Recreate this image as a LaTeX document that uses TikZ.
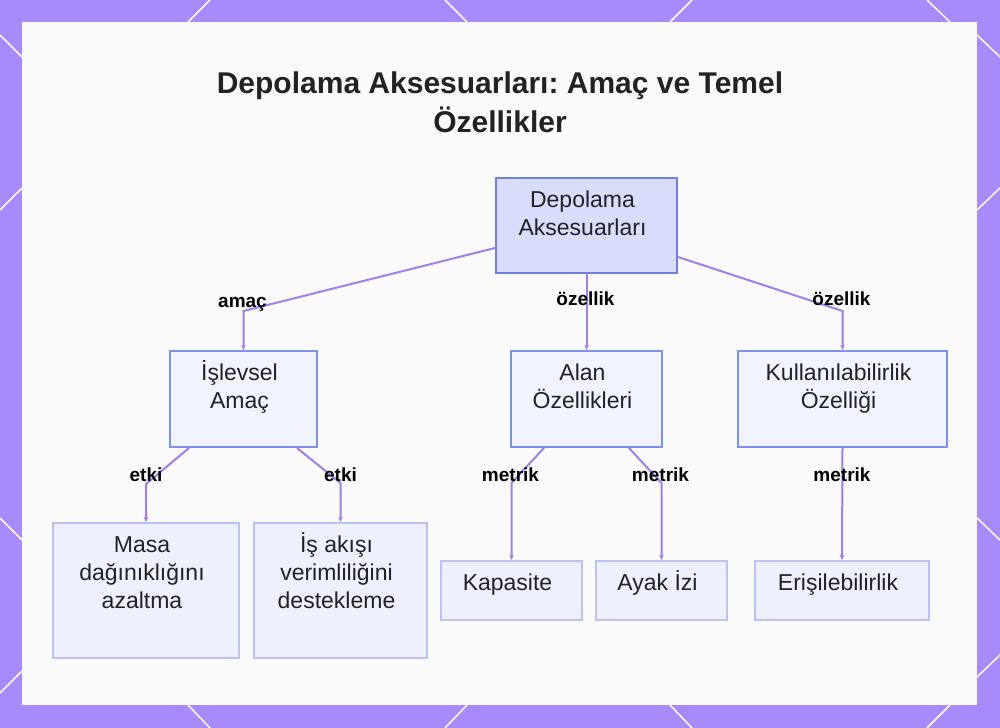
\documentclass[tikz,border=0pt]{standalone}
\usepackage{fontspec}
\setmainfont{Liberation Sans}
\usetikzlibrary{calc,arrows.meta}
\frenchspacing
\definecolor{bgpurple}{HTML}{A78BFA}
\definecolor{panelbg}{HTML}{FAFAFA}
\definecolor{rootfill}{HTML}{D9DCFB}
\definecolor{rootdraw}{HTML}{6F80D8}
\definecolor{midfill}{HTML}{F1F3FE}
\definecolor{middraw}{HTML}{8090E6}
\definecolor{leaffill}{HTML}{EEF0FE}
\definecolor{leafdraw}{HTML}{BAC3F3}
\definecolor{edgecol}{HTML}{A07FE8}
\definecolor{txt}{HTML}{222222}
\tikzset{
  boxbase/.style={rectangle, inner sep=0pt, line width=1.5pt},
  rootbox/.style={boxbase, fill=rootfill, draw=rootdraw},
  midbox/.style={boxbase, fill=midfill, draw=middraw},
  leafbox/.style={boxbase, fill=leaffill, draw=leafdraw},
  boxtext/.style={anchor=base, align=center, inner sep=0pt, text=txt,
    font=\fontsize{17.25pt}{21pt}\selectfont},
  elabel/.style={anchor=base, inner sep=0pt, text=black,
    font=\bfseries\fontsize{14.25pt}{17pt}\selectfont},
  edge/.style={draw=edgecol, line width=1.5pt, -{Stealth[length=4pt,width=3.5pt]}},
  deco/.style={draw=white, line width=1.1pt}
}
\begin{document}
\begin{tikzpicture}[x=0.75pt,y=-0.75pt]
\useasboundingbox (0,0) rectangle (1000,728);
\fill[bgpurple] (0,0) rectangle (1000,728);
% decorative diagonals on the border
\draw[deco] (188,22) -- (210,0);
\draw[deco] (445,0) -- (467,22);
\draw[deco] (670,22) -- (692,0);
\draw[deco] (927,0) -- (950,22);
\draw[deco] (188,705) -- (210,728);
\draw[deco] (467,705) -- (445,728);
\draw[deco] (670,705) -- (692,728);
\draw[deco] (950,705) -- (927,728);
\draw[deco] (0,35) -- (22,57);
\draw[deco] (22,188) -- (0,210);
\draw[deco] (0,518) -- (22,540);
\draw[deco] (22,671) -- (0,693);
\draw[deco] (977,35) -- (1000,57);
\draw[deco] (1000,188) -- (977,210);
\draw[deco] (977,518) -- (1000,540);
\draw[deco] (1000,655) -- (977,677);
\fill[panelbg] (22,22) rectangle (977,705);

% title (base anchor = baseline of the last line)
\node[anchor=base, inner sep=0pt, text=txt, align=center,
  font=\bfseries\fontsize{22.5pt}{29pt}\selectfont] (title) at (500,132)
  {Depolama Aksesuarları: Amaç ve Temel\\Özellikler};

% boxes
\node[rootbox, minimum width=135.75pt, minimum height=71.25pt] (root) at (586.5,225.5) {};
\node[midbox, minimum width=110.25pt, minimum height=72pt] (isl) at (243.5,399) {};
\node[midbox, minimum width=113.25pt, minimum height=72pt] (alan) at (586.5,399) {};
\node[midbox, minimum width=156.75pt, minimum height=72pt] (kul) at (842.5,399) {};
\node[leafbox, minimum width=139.5pt, minimum height=101.25pt] (masa) at (146,590.5) {};
\node[leafbox, minimum width=129.75pt, minimum height=101.25pt] (isak) at (340.5,590.5) {};
\node[leafbox, minimum width=105.75pt, minimum height=44.25pt] (kap) at (511.5,590.5) {};
\node[leafbox, minimum width=98.25pt, minimum height=44.25pt] (ayak) at (661.5,590.5) {};
\node[leafbox, minimum width=130.5pt, minimum height=44.25pt] (eris) at (842,590.5) {};

% box texts (first baseline 30px below the top edge, 28px line pitch;
% the base anchor is the baseline of the last line)
\node[boxtext] (troot) at ($(root.north)+(-4,58)$) {Depolama\\Aksesuarları};
\node[boxtext] (tisl) at ($(isl.north)+(-4,58)$) {İşlevsel\\Amaç};
\node[boxtext] (talan) at ($(alan.north)+(-4,58)$) {Alan\\Özellikleri};
\node[boxtext] (tkul) at ($(kul.north)+(-4,58)$) {Kullanılabilirlik\\Özelliği};
\node[boxtext] (tmasa) at ($(masa.north)+(-4,86)$) {Masa\\dağınıklığını\\azaltma};
\node[boxtext] (tisak) at ($(isak.north)+(-4,86)$) {İş akışı\\verimliliğini\\destekleme};
\node[boxtext] (tkap) at ($(kap.north)+(-4,30)$) {Kapasite};
\node[boxtext] (tayak) at ($(ayak.north)+(-4,30)$) {Ayak İzi};
\node[boxtext] (teris) at ($(eris.north)+(-4,30)$) {Erişilebilirlik};

% connectors
\draw[edge] ($(root.west)+(0,22.5)$) -- ($(isl.north)+(0,-39)$) -- (isl.north);
\draw[edge] (root.south) -- (alan.north);
\draw[edge] ($(root.east)+(0,31.5)$) -- ($(kul.north)+(0,-39)$) -- (kul.north);
\draw[edge] ($(isl.south)+(-54.5,0)$) -- ($(masa.north)+(0,-38)$) -- (masa.north);
\draw[edge] ($(isl.south)+(53.5,0)$) -- ($(isak.north)+(0,-39)$) -- (isak.north);
\draw[edge] ($(alan.south)+(-42.5,0)$) -- ($(kap.north)+(0,-77)$) -- (kap.north);
\draw[edge] ($(alan.south)+(42.5,0)$) -- ($(ayak.north)+(0,-77)$) -- (ayak.north);
\draw[edge] (kul.south) -- (eris.north);

% connector labels
\node[elabel] (l1) at ($(isl.north)+(-1,-43)$) {amaç};
\node[elabel] (l2) at ($(alan.north)+(-1,-45)$) {özellik};
\node[elabel] (l3) at ($(kul.north)+(-1,-45)$) {özellik};
\node[elabel] (l4) at ($(masa.north)+(0,-41)$) {etki};
\node[elabel] (l5) at ($(isak.north)+(0,-41)$) {etki};
\node[elabel] (l6) at ($(kap.north)+(-1,-79)$) {metrik};
\node[elabel] (l7) at ($(ayak.north)+(-1,-79)$) {metrik};
\node[elabel] (l8) at ($(eris.north)+(0,-79)$) {metrik};
\end{tikzpicture}
\end{document}
